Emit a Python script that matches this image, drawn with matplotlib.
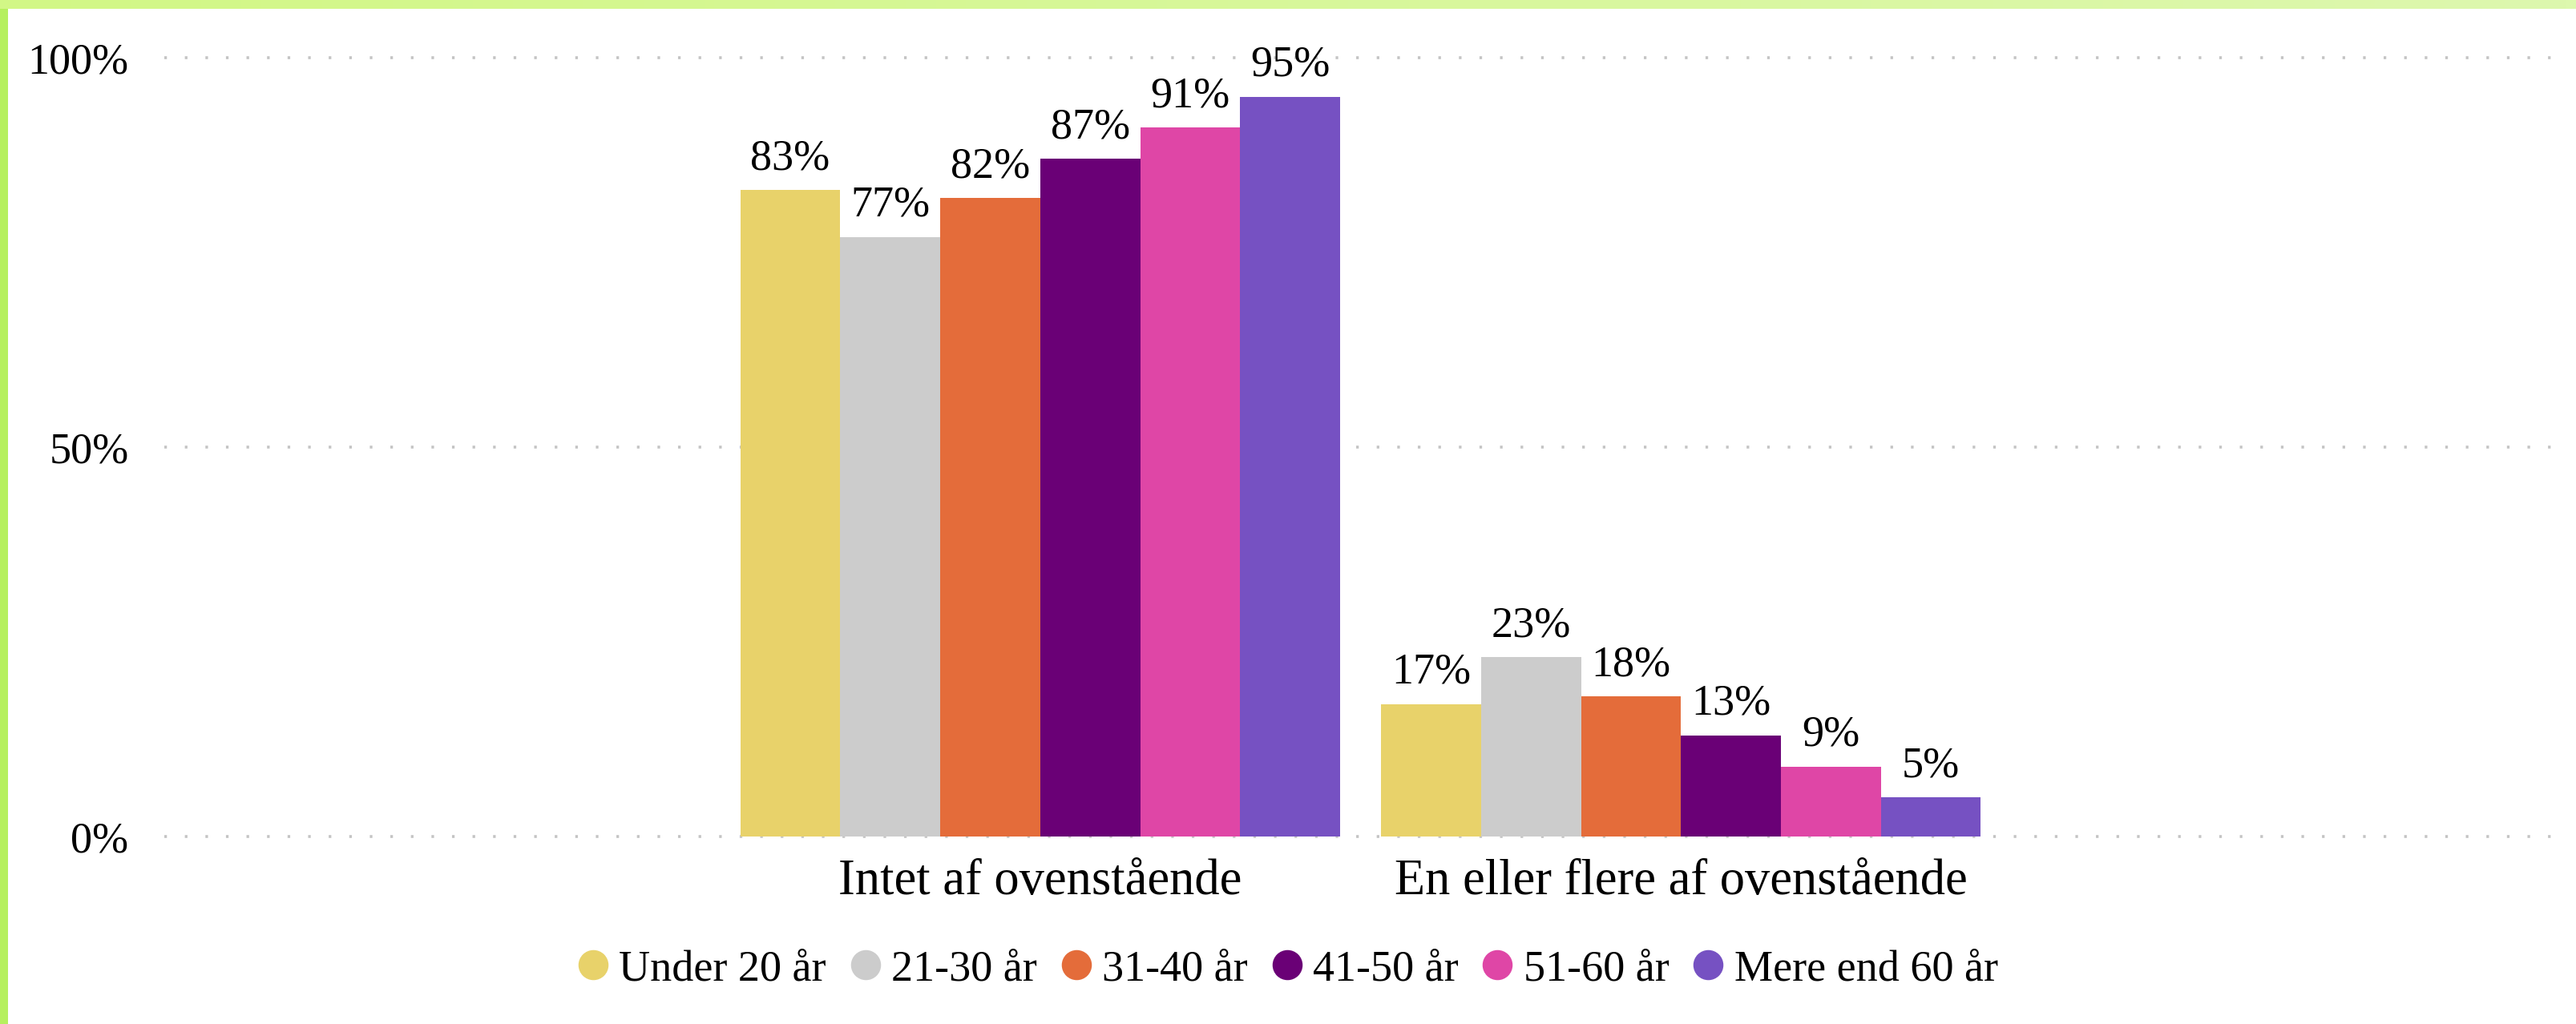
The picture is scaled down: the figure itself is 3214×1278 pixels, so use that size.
import matplotlib.pyplot as plt
import numpy as np
from matplotlib.lines import Line2D
from matplotlib.colors import LinearSegmentedColormap

# data
categories = ['Intet af ovenstående', 'En eller flere af ovenstående']
age_groups = ['Under 20 år', '21-30 år', '31-40 år', '41-50 år', '51-60 år', 'Mere end 60 år']
values = [
    [83, 17],
    [77, 23],
    [82, 18],
    [87, 13],
    [91, 9],
    [95, 5],
]
colors = ['#E8D26A', '#CCCCCC', '#E46C3A', '#6A0076', '#DF46A6', '#7651C2']
yticks = [0, 50, 100]

plt.rcParams['font.family'] = ['Liberation Serif', 'DejaVu Serif']
fs = 39

W, H = 3214, 1278
fig = plt.figure(figsize=(W / 100, H / 100), dpi=100)
fig.patch.set_facecolor('white')

# green frame pieces (top band with slight gradient, left strip)
band = fig.add_axes([0, 1 - 11 / H, 1, 11 / H])
grad = np.linspace(0, 1, 256).reshape(1, -1)
cm = LinearSegmentedColormap.from_list('g', ['#D2F786', '#DDF8AE'])
band.imshow(grad, aspect='auto', cmap=cm, extent=[0, 1, 0, 1])
band.axis('off')
strip = fig.add_axes([0, 0, 10 / W, 1 - 11 / H])
strip.set_facecolor('#B6F05E')
strip.set_xticks([])
strip.set_yticks([])
for s in strip.spines.values():
    s.set_visible(False)

ax = fig.add_axes([205 / W, 1 - 1044 / H, (3202 - 205) / W, (1044 - 72) / H])
x = np.arange(len(categories))
bw = 0.156
for i, (name, vals) in enumerate(zip(age_groups, values)):
    xs = x + (i - 2.5) * bw
    ax.bar(xs, vals, width=bw, color=colors[i], label=name, zorder=3)
    for xx, v in zip(xs, vals):
        ax.annotate(f'{v}%', (xx, v), xytext=(0, 10), textcoords='offset points',
                    ha='center', va='bottom', fontsize=fs, clip_on=False)

ax.set_xlim(-1.367, 2.382)
ax.set_ylim(0, 100)
ax.set_yticks(yticks)
ax.set_yticklabels([f'{t}%' for t in yticks], fontsize=fs)
ax.set_xticks(x)
ax.set_xticklabels(categories, fontsize=45)
ax.tick_params(axis='y', length=0, pad=32)
ax.tick_params(axis='x', length=0, pad=20)
for t in yticks:
    ax.axhline(t, color='#C4C4C4', lw=2.6, linestyle=(0, (0.9, 6.2)), zorder=1, clip_on=False)
for s in ax.spines.values():
    s.set_visible(False)

handles = [Line2D([], [], marker='o', linestyle='none', markersize=26,
                  markerfacecolor=c, markeredgecolor=c) for c in colors]
fig.legend(handles, age_groups, loc='center', bbox_to_anchor=(0.5, 1 - 1210 / H),
           ncol=6, frameon=False, fontsize=fs, handlelength=0.7, handletextpad=0.25,
           columnspacing=0.55, borderaxespad=0)

fig.savefig('out.png', dpi=100)
